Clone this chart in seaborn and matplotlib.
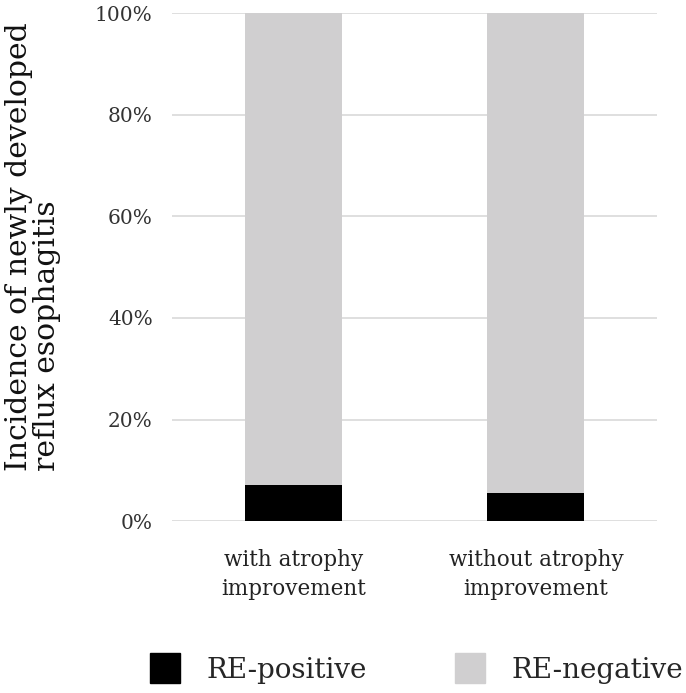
import matplotlib
matplotlib.use("Agg")
import matplotlib.pyplot as plt
import seaborn as sns
import pandas as pd
from matplotlib.lines import Line2D
from matplotlib.ticker import PercentFormatter

# values (%)
groups = ["with atrophy\nimprovement", "without atrophy\nimprovement"]
re_positive = [7.2, 5.5]
re_negative = [92.8, 94.5]

black = "#000000"
grey = "#d0cfd0"

sns.set_style("white")
plt.rcParams["font.family"] = ["DejaVu Serif"]

df = pd.DataFrame({"group": groups, "pos": re_positive, "neg": re_negative})
df["stack"] = df["pos"] + df["neg"]

fig = plt.figure(figsize=(6.86, 6.93), dpi=100)
ax = fig.add_axes([0.251, 0.248, 0.707, 0.733])

sns.barplot(data=df, x="group", y="stack", color=grey, width=0.4,
            saturation=1, linewidth=0, ax=ax, zorder=2)
sns.barplot(data=df, x="group", y="pos", color=black, width=0.4,
            saturation=1, linewidth=0, ax=ax, zorder=3)

ax.set_ylim(0, 100)
ax.set_xlim(-0.5, 1.5)
ax.set_yticks(range(0, 101, 20))
ax.yaxis.set_major_formatter(PercentFormatter(decimals=0))
ax.grid(axis="y", color="#d9d9d9", linewidth=1.2, zorder=0)
ax.set_axisbelow(True)
for s in ax.spines.values():
    s.set_visible(False)
ax.tick_params(axis="y", length=0, labelsize=14.5, colors="#333333", pad=14)
ax.tick_params(axis="x", length=0, labelsize=15.5, colors="#222222", pad=20)
for t in ax.get_xticklabels():
    t.set_linespacing(1.4)
ax.set_xlabel("")
ax.set_ylabel("")

# y label: two lines aligned at their start (bottom after rotation)
fig.text(0.008, 0.32, "Incidence of newly developed\nreflux esophagitis",
         rotation=90, ha="left", va="bottom", multialignment="left",
         fontsize=21.5, linespacing=1.0, color="#111111")

handles = [Line2D([], [], marker="s", linestyle="", markersize=22, color=black),
           Line2D([], [], marker="s", linestyle="", markersize=22, color=grey)]
fig.legend(handles, ["RE-positive", "RE-negative"], loc="center",
           bbox_to_anchor=(0.598, 0.033), ncol=2, frameon=False, fontsize=20,
           handletextpad=0.5, columnspacing=2.7)

fig.savefig("out.png", dpi=100)
